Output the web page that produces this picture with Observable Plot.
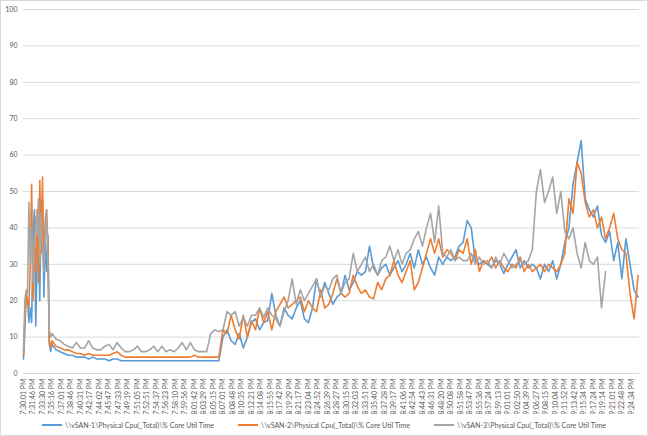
<!DOCTYPE html>
<html>
<head>
<meta charset="utf-8">
<script src="https://cdn.jsdelivr.net/npm/d3@7"></script>
<script src="https://cdn.jsdelivr.net/npm/@observablehq/plot@0.6"></script>
<style>
  html, body { margin: 0; padding: 0; background: #fff; }
  #wrap { position: relative; width: 648px; height: 436px; overflow: hidden; font-family: Lato, "Open Sans", sans-serif; }
  #frame { position: absolute; left: 0; top: 0; width: 646px; height: 434px; border: 1px solid #d9d9d9; pointer-events: none; }
  #chart { position: absolute; left: 0; top: 0; }
  #legend { position: absolute; left: 0; top: 416px; width: 648px; height: 18px; display: flex; justify-content: center; align-items: center; gap: 24px; font-size: 7px; color: #595959; }
  .item { display: flex; align-items: center; }
  .sw { width: 20px; height: 2px; margin-right: 3px; }
</style>
</head>
<body>
<div id="wrap">
  <div id="chart"></div>
  <div id="legend"></div>
  <div id="frame"></div>
</div>
<script>
const seriesNames = [
  "\\\\vSAN-1\\Physical Cpu(_Total)\\% Core Util Time",
  "\\\\vSAN-2\\Physical Cpu(_Total)\\% Core Util Time",
  "\\\\vSAN-3\\Physical Cpu(_Total)\\% Core Util Time"
];
const seriesColors = ["#5B9BD5", "#ED7D31", "#A5A5A5"];

const tickLabels = [
  "7:30:01 PM","7:31:46 PM","7:33:30 PM","7:35:16 PM","7:37:01 PM","7:38:46 PM","7:40:31 PM","7:42:17 PM",
  "7:44:02 PM","7:45:47 PM","7:47:33 PM","7:49:19 PM","7:51:05 PM","7:52:51 PM","7:54:37 PM","7:56:23 PM",
  "7:58:10 PM","7:59:56 PM","8:01:42 PM","8:03:29 PM","8:05:15 PM","8:07:01 PM","8:08:48 PM","8:10:35 PM",
  "8:12:21 PM","8:14:08 PM","8:15:55 PM","8:17:42 PM","8:19:29 PM","8:21:17 PM","8:23:04 PM","8:24:52 PM",
  "8:26:39 PM","8:28:27 PM","8:30:15 PM","8:32:03 PM","8:33:51 PM","8:35:40 PM","8:37:28 PM","8:39:17 PM",
  "8:41:06 PM","8:42:54 PM","8:44:43 PM","8:46:31 PM","8:48:20 PM","8:50:08 PM","8:51:58 PM","8:53:47 PM",
  "8:55:36 PM","8:57:24 PM","8:59:13 PM","9:01:01 PM","9:02:50 PM","9:04:39 PM","9:06:27 PM","9:08:15 PM",
  "9:10:04 PM","9:11:52 PM","9:13:42 PM","9:15:34 PM","9:17:24 PM","9:19:14 PM","9:21:01 PM","9:22:48 PM",
  "9:24:34 PM"
];
const samplesPerLabel = 7;
const lastSample = 454;
const yTicks = [0, 10, 20, 30, 40, 50, 60, 70, 80, 90, 100];

// sample index of each reading
const sampleIdx = [
  0,1,2,3,4,5,6,7,8,9,10,11,12,13,14,15,16,17,18,19,20,
  21,24,27,30,33,36,39,42,45,48,51,54,57,60,63,66,69,72,75,78,81,84,87,90,93,96,99,
  102,105,108,111,114,117,120,123,126,129,132,135,138,141,144,147,150,153,156,159,162,165,168,171,174,177,180,
  183,186,189,192,195,198,201,204,207,210,213,216,219,222,225,228,231,234,237,240,243,246,249,252,255,258,
  261,264,267,270,273,276,279,282,285,288,291,294,297,300,303,306,309,312,315,318,321,324,327,330,333,336,
  339,342,345,348,351,354,357,360,363,366,369,372,375,378,381,384,387,390,393,396,399,402,405,408,411,414,
  417,420,423,426,429,432,435,438,441,444,447,450,453
];

const vsan1 = [
  4,12,22,20,14,18,14,36,45,13,30,40,20,47,48,21,36,28,38,8,6,
  8,6.5,6,5.5,5,5,4.5,4.5,4.5,4,4.5,4,4,4,3.5,4,4,3.5,3.5,3.5,3.5,3.5,3.5,3.5,3.5,3.5,3.5,
  3.5,3.5,3.5,3.5,3.5,3.5,3.5,3.5,3.5,3.5,3.5,3.5,3.5,3.5,3.5,10,12,9,8,11,7,10,14,15,12,14,14.5,
  22,16,13,18,16,15,18,20,15,14,18,26,21,25,22,19,21,22,27,23,25,28,27,28,35,29,
  27,29,30,27,29,31,28,30,33,29,34,30,32,29,27,32,30,32,31,32,35,36,42,40,31,30,
  31,30,29,31,30,27.5,30,32,34,29,31,29,30,29,26,30,28,31,26,30,36,40,52,58,64,48,
  45,43,46,38,36,39,31,36,26,37,30,23,21
];
const vsan2 = [
  5,15,22,20,18,30,52,20,35,28,45,25,53,33,54,28,42,45,35,9,7,
  9,7.5,7,6.5,6.5,6,5.5,5.5,5,5.5,5,5,5,5,5,5.5,6,5,4.5,4.5,4.5,4.5,4.5,4.5,4.5,4.5,4.5,
  4.5,4.5,4.5,4.5,4.5,4.5,4.5,4.5,5,4.5,4.5,4.5,4.5,4.5,4.5,12,11,16,12,9.5,16,10,14.5,12,18,14,17,
  12,17,19,21,18,19,20,21,17,20,18,17,23,18,19,22,26,22,21,22,27,24,22,23,21,20.5,
  25,23,26,27,31,27,25,28,31,23,25,29,33,37,33,37,32,34,33,31,34,33,37,30,34,28,
  31,30,32,29,31,29,28,30,29,32,28,30,28,29,30,28,30,29,28,30,33,48,44,58,55,47,
  43,45,40,43,37,40,44,37,34,33,22,15,27
];
const vsan3 = [
  6,20,23,22,47,30,40,25,35,43,38,48,30,44,35,28,38,45,30,12,10,
  11,9.5,9,8,7.5,7,8.5,7,7,9,7,6.5,6.5,7.5,8,6.5,8.5,7,6,6,6.5,7.5,6,6,6.5,7.5,6,
  7.5,6,6.5,6,7,8.5,6.5,8.5,6.5,6,6,6,11,12,11.5,12,17,16,17,13,15.5,13,16,16,18,15.5,18,
  16,15,13,17,20,26,19,23,20,22,24,26,21,24,23,26,27,22,25,26,33,28,30,32,28,30,
  27,31,32,35,31,34,30,33,34,37,39,35,40,44,36,46,33,32,34,31,32,31,31,33,30,32,
  30,31,29,32,30,33,31,29,30,31,30,31,34,50,56,47,50,54,44,50,39,37,40,33,29,36,
  31,30,32,18,28
];

const data = [vsan1, vsan2, vsan3].map((vals, s) =>
  vals.map((v, i) => ({ idx: sampleIdx[i], value: v, series: seriesNames[s] }))
);

const chart = Plot.plot({
  width: 648,
  height: 414,
  marginLeft: 23,
  marginRight: 9,
  marginTop: 9,
  marginBottom: 41,
  style: { fontFamily: "Lato, 'Open Sans', sans-serif", fontSize: "7px", color: "#595959", background: "transparent" },
  x: { domain: [0, lastSample] },
  y: { domain: [0, 100] },
  color: { domain: seriesNames, range: seriesColors },
  marks: [
    Plot.gridY(yTicks.slice(1), { stroke: "#d9d9d9", strokeOpacity: 1, strokeWidth: 1 }),
    Plot.ruleY([0], { stroke: "#d9d9d9", strokeWidth: 1 }),
    Plot.axisY(yTicks, { tickSize: 0, tickPadding: 6, label: null, fill: "#595959" }),
    Plot.axisX(d3.range(0, tickLabels.length * samplesPerLabel, samplesPerLabel), {
      tickSize: 0, tickPadding: 5, tickRotate: -90, label: null, fill: "#595959",
      tickFormat: i => tickLabels[i / samplesPerLabel]
    }),
    ...data.map(d => Plot.lineY(d, { x: "idx", y: "value", stroke: "series", strokeWidth: 1.6 }))
  ]
});
document.getElementById("chart").appendChild(chart);

const legend = document.getElementById("legend");
seriesNames.forEach((n, i) => {
  const it = document.createElement("div");
  it.className = "item";
  const sw = document.createElement("div");
  sw.className = "sw";
  sw.style.background = seriesColors[i];
  const t = document.createElement("span");
  t.textContent = n;
  it.appendChild(sw);
  it.appendChild(t);
  legend.appendChild(it);
});
</script>
</body>
</html>
